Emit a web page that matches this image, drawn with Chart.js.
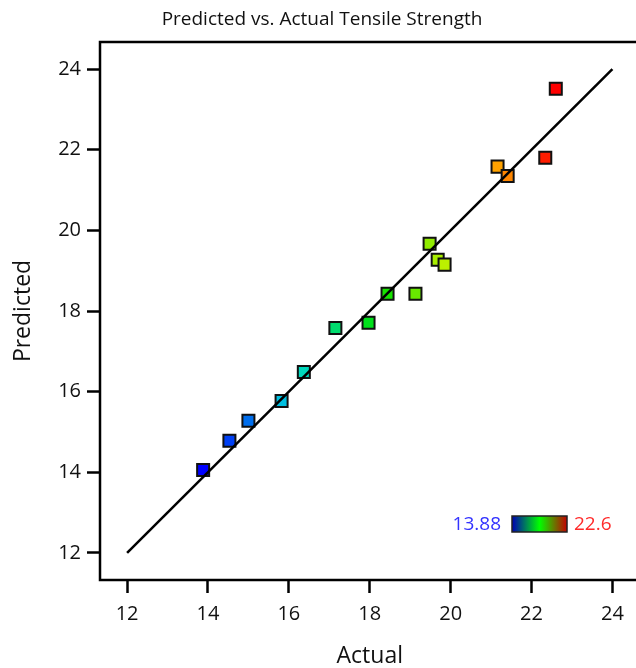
<!DOCTYPE html>
<html>
<head>
<meta charset="utf-8">
<script src="https://cdn.jsdelivr.net/npm/chart.js"></script>
<style>
  html, body { margin: 0; padding: 0; background: #fff; overflow: hidden; }
  #chartTensile { display: block; }
</style>
</head>
<body>
<canvas id="chartTensile" width="650" height="668"></canvas>
<script>
// Tensile strength: actual vs predicted per run
const actualValues = [13.88, 14.53, 15.0, 15.82, 16.37, 17.15, 17.97, 18.44, 19.13, 19.48, 19.68, 19.85, 21.16, 21.41, 22.34, 22.6];
const predictedValues = [14.06, 14.78, 15.28, 15.77, 16.49, 17.58, 17.71, 18.43, 18.43, 19.67, 19.27, 19.15, 21.58, 21.35, 21.80, 23.51];
const tickValues = [12, 14, 16, 18, 20, 22, 24];
const fitLine = [12, 24];

document.addEventListener("DOMContentLoaded", () => {
    const FONT = "'Open Sans', 'Noto Sans', sans-serif";
    const lo = Math.min(...actualValues);
    const hi = Math.max(...actualValues);

    // blue -> cyan -> green -> yellow -> red, by actual value
    const stops = [[0, 0, 255], [0, 215, 220], [0, 225, 0], [255, 245, 0], [255, 0, 0]];
    const colorFor = (v) => {
        const t = Math.min(1, Math.max(0, (v - lo) / (hi - lo))) * (stops.length - 1);
        const i = Math.min(stops.length - 2, Math.floor(t));
        const f = t - i;
        const c = stops[i].map((a, k) => Math.round(a + (stops[i + 1][k] - a) * f));
        return `rgb(${c[0]}, ${c[1]}, ${c[2]})`;
    };

    const points = actualValues.map((a, i) => ({ x: a, y: predictedValues[i] }));

    // box around plot area
    const framePlugin = {
        id: "frame",
        beforeDatasetsDraw(chart) {
            const { ctx, chartArea: a } = chart;
            ctx.save();
            ctx.strokeStyle = "#000";
            ctx.lineWidth = 2.5;
            ctx.strokeRect(a.left, a.top, a.right - a.left, a.bottom - a.top);
            ctx.restore();
        }
    };

    // small colour key in the lower right
    const colorKey = {
        id: "colorKey",
        afterDraw(chart) {
            const { ctx } = chart;
            const x0 = 512, y0 = 516, w = 55, h = 16;
            ctx.save();
            const g = ctx.createLinearGradient(x0, 0, x0 + w, 0);
            g.addColorStop(0, "#0000b4");
            g.addColorStop(0.5, "#00ff00");
            g.addColorStop(1, "#c40000");
            ctx.fillStyle = g;
            ctx.fillRect(x0, y0, w, h);
            ctx.strokeStyle = "#222";
            ctx.lineWidth = 1.5;
            ctx.strokeRect(x0, y0, w, h);
            ctx.font = "19px " + FONT;
            ctx.textBaseline = "middle";
            ctx.textAlign = "right";
            ctx.fillStyle = "#3333ff";
            ctx.fillText(String(lo), x0 - 11, y0 + h / 2 + 1);
            ctx.textAlign = "left";
            ctx.fillStyle = "#ff2a2a";
            ctx.fillText(String(hi), x0 + w + 7, y0 + h / 2 + 1);
            ctx.restore();
        }
    };

    const axis = (label, fit, tickPad, titlePad) => ({
        type: "linear",
        min: 11.33,
        max: 24.67,
        afterBuildTicks: (scale) => { scale.ticks = tickValues.map(v => ({ value: v })); },
        afterFit: fit,
        border: { display: false },
        grid: {
            drawOnChartArea: false,
            drawTicks: true,
            tickLength: 13,
            tickWidth: 2.5,
            tickColor: "#000"
        },
        ticks: {
            color: "#111",
            padding: tickPad,
            font: { family: FONT, size: 20 }
        },
        title: {
            display: true,
            text: label,
            color: "#111",
            padding: titlePad,
            font: { family: FONT, size: 23 }
        }
    });

    new Chart(document.getElementById("chartTensile"), {
        type: "scatter",
        data: {
            datasets: [
                {
                    label: "Fit",
                    data: fitLine.map(v => ({ x: v, y: v })),
                    showLine: true,
                    borderColor: "#000",
                    borderWidth: 2.5,
                    pointRadius: 0,
                    order: 0
                },
                {
                    label: "Tensile Strength",
                    data: points,
                    pointStyle: "rect",
                    pointRadius: 8.5,
                    pointBorderWidth: 2,
                    pointBorderColor: "#111",
                    pointBackgroundColor: actualValues.map(colorFor),
                    order: 1
                }
            ]
        },
        options: {
            responsive: false,
            animation: false,
            layout: { padding: { left: 0, top: 0, right: 6, bottom: 0 } },
            plugins: {
                legend: { display: false },
                tooltip: { enabled: false },
                title: {
                    display: true,
                    text: "Predicted vs. Actual Tensile Strength",
                    color: "#111",
                    font: { family: FONT, size: 19, weight: "normal" },
                    padding: { top: 8, bottom: 11.2 }
                }
            },
            scales: {
                x: axis("Actual", (s) => { s.height = 88; }, 9, { top: 0, bottom: -2 }),
                y: axis("Predicted", (s) => { s.width = 100; }, 6, { top: 10, bottom: 0 })
            }
        },
        plugins: [framePlugin, colorKey]
    });
});
</script>
</body>
</html>
